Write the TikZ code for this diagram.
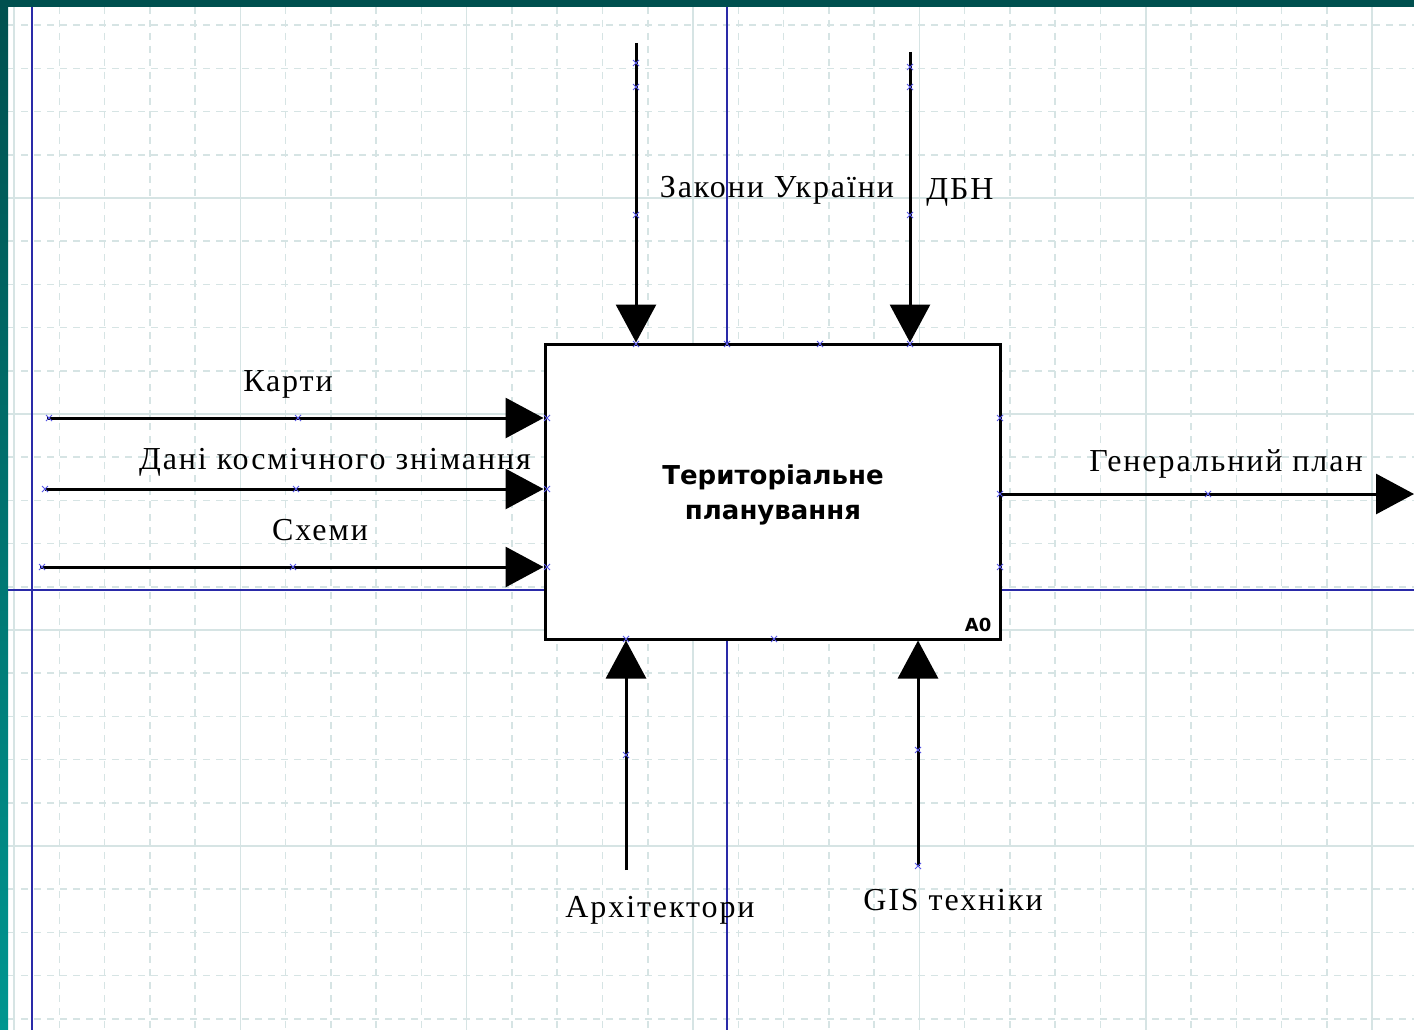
\documentclass[tikz,border=0pt]{standalone}
\usepackage{fontspec}
\setmainfont{Liberation Serif}[LetterSpace=6]
\newfontfamily\boxfont{DejaVu Sans}
\usetikzlibrary{arrows.meta,positioning}

\definecolor{gridcol}{HTML}{D6E4E4}
\definecolor{guidecol}{HTML}{2A2AA8}
\definecolor{markcol}{HTML}{5858E8}
\definecolor{barcol}{HTML}{00504F}
\definecolor{barlow}{HTML}{009690}

\tikzset{
  minorline/.style={gridcol, line width=1.5pt, dash pattern=on 7pt off 6pt},
  majorline/.style={gridcol, line width=1.5pt},
  guide/.style={guidecol, line width=1.8pt},
  selmark/.style={markcol, line width=0.9pt},
  fnbox/.style={draw, fill=white, line width=3pt, inner sep=0pt,
    minimum width=455pt, minimum height=295pt},
  fntext/.style={inner sep=0pt, align=center,
    font=\boxfont\bfseries\fontsize{26}{35}\selectfont},
  flow/.style={line width=3pt, -{Triangle[length=38pt,width=40pt]}},
  lbl/.style={inner sep=0pt, font=\fontsize{32}{34}\selectfont}
}

\begin{document}
\begin{tikzpicture}[x=1pt, y=-1pt]
  \useasboundingbox (0,0) rectangle (1414,1030);
  \fill[white] (0,0) rectangle (1414,1030);

  % grid
  \foreach \k in {0,...,30}
    \draw[minorline] (14+45.27*\k,7) -- (14+45.27*\k,1030);
  \foreach \k in {0,...,23}
    \draw[minorline] (8,25.2+43.2*\k) -- (1414,25.2+43.2*\k);
  \foreach \k in {0,5,...,30}
    \draw[majorline] (14+45.27*\k,7) -- (14+45.27*\k,1030);
  \foreach \k in {4,9,14,19}
    \draw[majorline] (8,25.2+43.2*\k) -- (1414,25.2+43.2*\k);

  % guide lines
  \draw[guide] (32,7) -- (32,1030);
  \draw[guide] (727,7) -- (727,1030);
  \draw[guide] (8,590) -- (1414,590);

  % window frame
  \shade[top color=barcol, bottom color=barlow] (0,0) rectangle (8,1030);
  \fill[barcol] (0,0) rectangle (1414,7);

  % function box
  \node[fnbox] (box) at (772.5,491.5) {};
  \node[fntext] (title) at (773,495) {Територіальне\\планування};
  \node[inner sep=0pt, anchor=south east, font=\boxfont\bfseries\fontsize{18}{18}\selectfont]
    (num) at ([xshift=-10pt, yshift=9pt]box.south east) {A0};

  % arrow ends
  \coordinate (zak) at (636,43);
  \coordinate (dbn) at (910,52);
  \coordinate (kar) at (47,418);
  \coordinate (dan) at (45,489);
  \coordinate (sch) at (40,567);
  \coordinate (gen) at (1414,494);
  \coordinate (arch) at (626,870);
  \coordinate (gis) at (918,866);

  \draw[flow] (zak) -- (zak |- box.north);
  \draw[flow] (dbn) -- (dbn |- box.north);
  \draw[flow] (kar) -- (kar -| box.west);
  \draw[flow] (dan) -- (dan -| box.west);
  \draw[flow] (sch) -- (sch -| box.west);
  \draw[flow] (gen -| box.east) -- (gen);
  \draw[flow] (arch) -- (arch |- box.south);
  \draw[flow] (gis) -- (gis |- box.south);

  % labels
  \node[lbl] (tzak) at (777,190) {Закони України};
  \node[lbl] (tdbn) at (960,192) {ДБН};
  \node[lbl] (tkar) at (288,384) {Карти};
  \node[lbl] (tdan) at (335,462) {Дані космічного знімання};
  \node[lbl] (tsch) at (320,530) {Схеми};
  \node[lbl] (tgen) at (1226,464) {Генеральний план};
  \node[lbl] (tarch) at (660,910) {Архітектори};
  \node[lbl] (tgis) at (953,900) {GIS техніки};

  % selection marks
  \foreach \p in {(636,344),(727,344),(820,344),(910,344),(626,639),(774,639),
      (547,418),(547,489),(547,567),(1000,418),(1000,494),(1000,567),
      (636,63),(636,87),(636,215),(910,67),(910,87),(910,215),
      (49,418),(298,418),(45,489),(296,489),(42,567),(293,567),(1208,494),
      (626,755),(918,750),(918,866)}
    \draw[selmark] \p +(-3,-3) -- +(3,3) \p +(-3,3) -- +(3,-3);
\end{tikzpicture}
\end{document}
